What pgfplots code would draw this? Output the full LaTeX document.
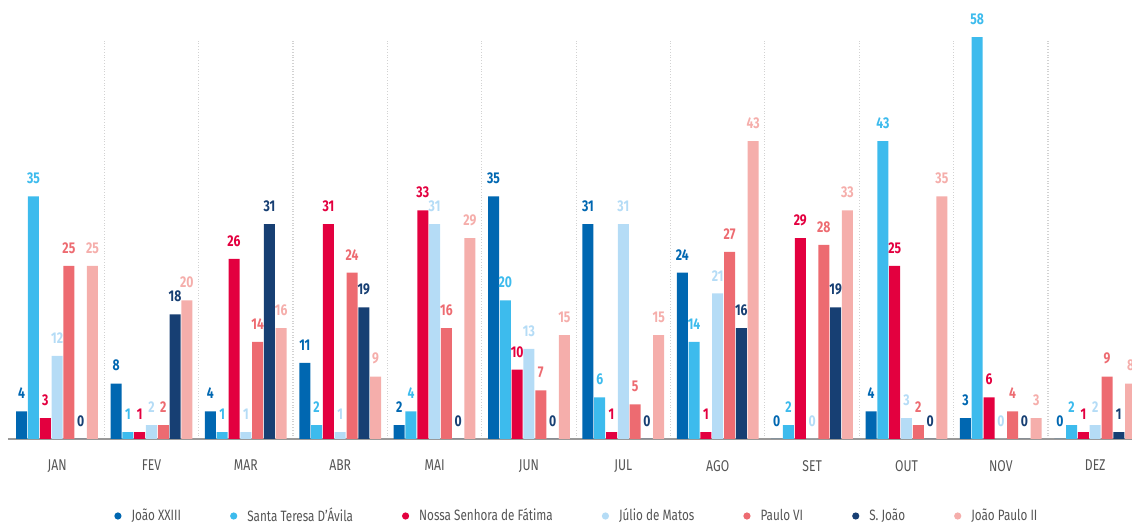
\documentclass[border=0pt]{standalone}
\usepackage{fontspec}
\setmainfont{Fira Sans}[FakeStretch=0.78]
\usepackage{pgfplots}
\pgfplotsset{compat=1.18}

\definecolor{cJoao}{HTML}{0067B1}
\definecolor{cTeresa}{HTML}{3DBBED}
\definecolor{cFatima}{HTML}{E3003F}
\definecolor{cJulio}{HTML}{B5DCF6}
\definecolor{cPaulo}{HTML}{ED6B71}
\definecolor{cSJoao}{HTML}{173F73}
\definecolor{cJPII}{HTML}{F5AEAB}
\definecolor{txtgray}{HTML}{555555}

\pgfplotsset{
  bs/.style={fill=#1, draw=none,
    every node near coord/.append style={text=#1}},
}

\begin{document}
\begin{tikzpicture}
  \begin{axis}[
    name=ax,
    width=562pt, height=199.5pt,
    scale only axis,
    ybar=0.4pt, bar width=5.5pt,
    xmin=-0.52, xmax=11.39,
    ymin=0, ymax=57.58,
    clip=false,
    axis y line=none,
    axis x line*=bottom,
    x axis line style={-, line width=1pt, color=gray!80},
    xtick={0,...,11},
    xticklabels={JAN,FEV,MAR,ABR,MAI,JUN,JUL,AGO,SET,OUT,NOV,DEZ},
    xticklabel style={font=\fontsize{7.8}{9}\selectfont, text=txtgray, yshift=-7pt},
    major tick length=0pt,
    minor xtick={0.5,1.5,...,10.5},
    minor tick length=0pt,
    xminorgrids,
    minor grid style={densely dotted, line width=0.6pt, color=gray!35},
    /pgf/number format/assume math mode=true,
    nodes near coords,
    every node near coord/.append style={font=\bfseries\fontsize{7.8}{9}\selectfont, anchor=south, inner sep=0pt, yshift=6pt},
    legend columns=7,
    legend style={at={(0.507,0)}, anchor=center, yshift=-38.5pt, draw=none,
      font=\fontsize{7.5}{9}\selectfont, text=txtgray,
      /tikz/every odd column/.append style={column sep=3pt},
      /tikz/every even column/.append style={column sep=22.5pt}},
    legend image code/.code={\fill[#1, draw=none] (0pt,0pt) circle (1.8pt);},
  ]
    \addplot[bs=cJoao] coordinates {(0,4) (1,8) (2,4) (3,11) (4,2) (5,35) (6,31) (7,24) (8,0) (9,4) (10,3) (11,0)};
    \addplot[bs=cTeresa] coordinates {(0,35) (1,1) (2,1) (3,2) (4,4) (5,20) (6,6) (7,14) (8,2) (9,43) (10,58) (11,2)};
    \addplot[bs=cFatima] coordinates {(0,3) (1,1) (2,26) (3,31) (4,33) (5,10) (6,1) (7,1) (8,29) (9,25) (10,6) (11,1)};
    \addplot[bs=cJulio] coordinates {(0,12) (1,2) (2,1) (3,1) (4,31) (5,13) (6,31) (7,21) (8,0) (9,3) (10,0) (11,2)};
    \addplot[bs=cPaulo] coordinates {(0,25) (1,2) (2,14) (3,24) (4,16) (5,7) (6,5) (7,27) (8,28) (9,2) (10,4) (11,9)};
    \addplot[bs=cSJoao] coordinates {(0,0) (1,18) (2,31) (3,19) (4,0) (5,0) (6,0) (7,16) (8,19) (9,0) (10,0) (11,1)};
    \addplot[bs=cJPII] coordinates {(0,25) (1,20) (2,16) (3,9) (4,29) (5,15) (6,15) (7,43) (8,33) (9,35) (10,3) (11,8)};
    \legend{João XXIII, Santa Teresa D’Ávila, Nossa Senhora de Fátima, Júlio de Matos, Paulo VI, S. João, João Paulo II}
  \end{axis}
  \pgfresetboundingbox
  \path[use as bounding box] ([xshift=-4pt,yshift=-42pt]ax.south west) rectangle ([yshift=20pt]ax.north east);
\end{tikzpicture}
\end{document}
